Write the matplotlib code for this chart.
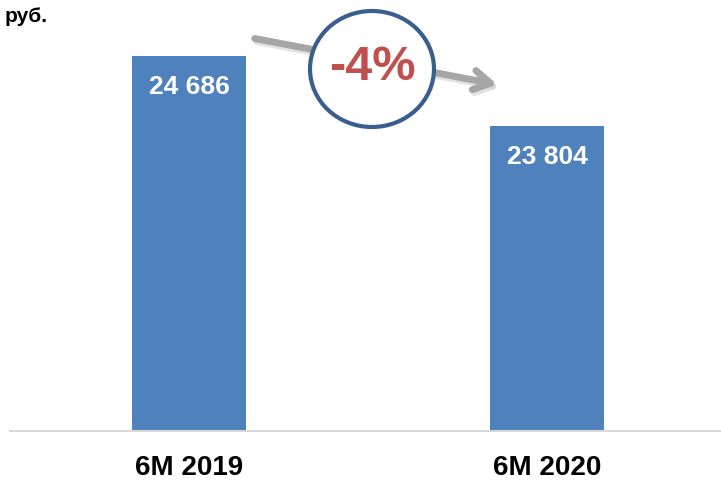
import matplotlib
matplotlib.use('Agg')
import matplotlib.pyplot as plt
from matplotlib.patches import Ellipse, FancyArrowPatch

categories = ['6M 2019', '6M 2020']
values = [24686, 23804]
value_labels = ['24 686', '23 804']
change_label = '-4%'
unit_label = 'руб.'

plt.rcParams['font.family'] = ['Liberation Sans', 'DejaVu Sans']

fig = plt.figure(figsize=(7.21, 4.83), dpi=100)
ax = fig.add_axes([10 / 721, (483 - 431) / 483, 716 / 721, 431 / 483])

x = range(len(categories))
bars = ax.bar(x, values, width=0.316, color='#4F81BD', zorder=2)
ax.set_xlim(-0.5, 1.5)
ax.set_ylim(19960, 19960 + 431 * 12.6)

for s in ['top', 'right', 'left']:
    ax.spines[s].set_visible(False)
ax.spines['bottom'].set_color('#D9D9D9')
ax.spines['bottom'].set_linewidth(1.5)
ax.set_yticks([])
ax.set_xticks(list(x))
ax.set_xticklabels(categories, fontsize=20, fontweight='bold')
ax.tick_params(axis='x', length=0, pad=17)

for b, lab in zip(bars, value_labels):
    ax.annotate(lab, (b.get_x() + b.get_width() / 2, b.get_height()),
                xytext=(0, -31), textcoords='offset pixels',
                ha='center', va='center', color='white',
                fontsize=19, fontweight='bold')

# trend arrow, placed in figure pixel fractions
def fx(px):
    return px / 721

def fy(py):
    return 1 - py / 483

style = '->,head_length=12,head_width=7'
fig.add_artist(FancyArrowPatch((fx(254), fy(41)), (fx(502), fy(88)),
                               transform=fig.transFigure, arrowstyle=style,
                               color='#D0D0D0', linewidth=5, mutation_scale=1,
                               alpha=0.6))
fig.add_artist(FancyArrowPatch((fx(252), fy(38)), (fx(500), fy(85)),
                               transform=fig.transFigure, arrowstyle=style,
                               color='#A6A6A6', linewidth=5, mutation_scale=1))

fig.add_artist(Ellipse((fx(372), fy(69)), 124 / 721, 116 / 483,
                       transform=fig.transFigure, facecolor='white',
                       edgecolor='#3A5F8F', linewidth=3, zorder=5))
fig.text(fx(372), fy(67), change_label, ha='center', va='center',
         color='#C0504D', fontsize=35, fontweight='bold', zorder=6)

fig.text(fx(5), fy(17), unit_label, ha='left', va='center',
         fontsize=15, fontweight='bold')

fig.savefig('out.png', dpi=100)
